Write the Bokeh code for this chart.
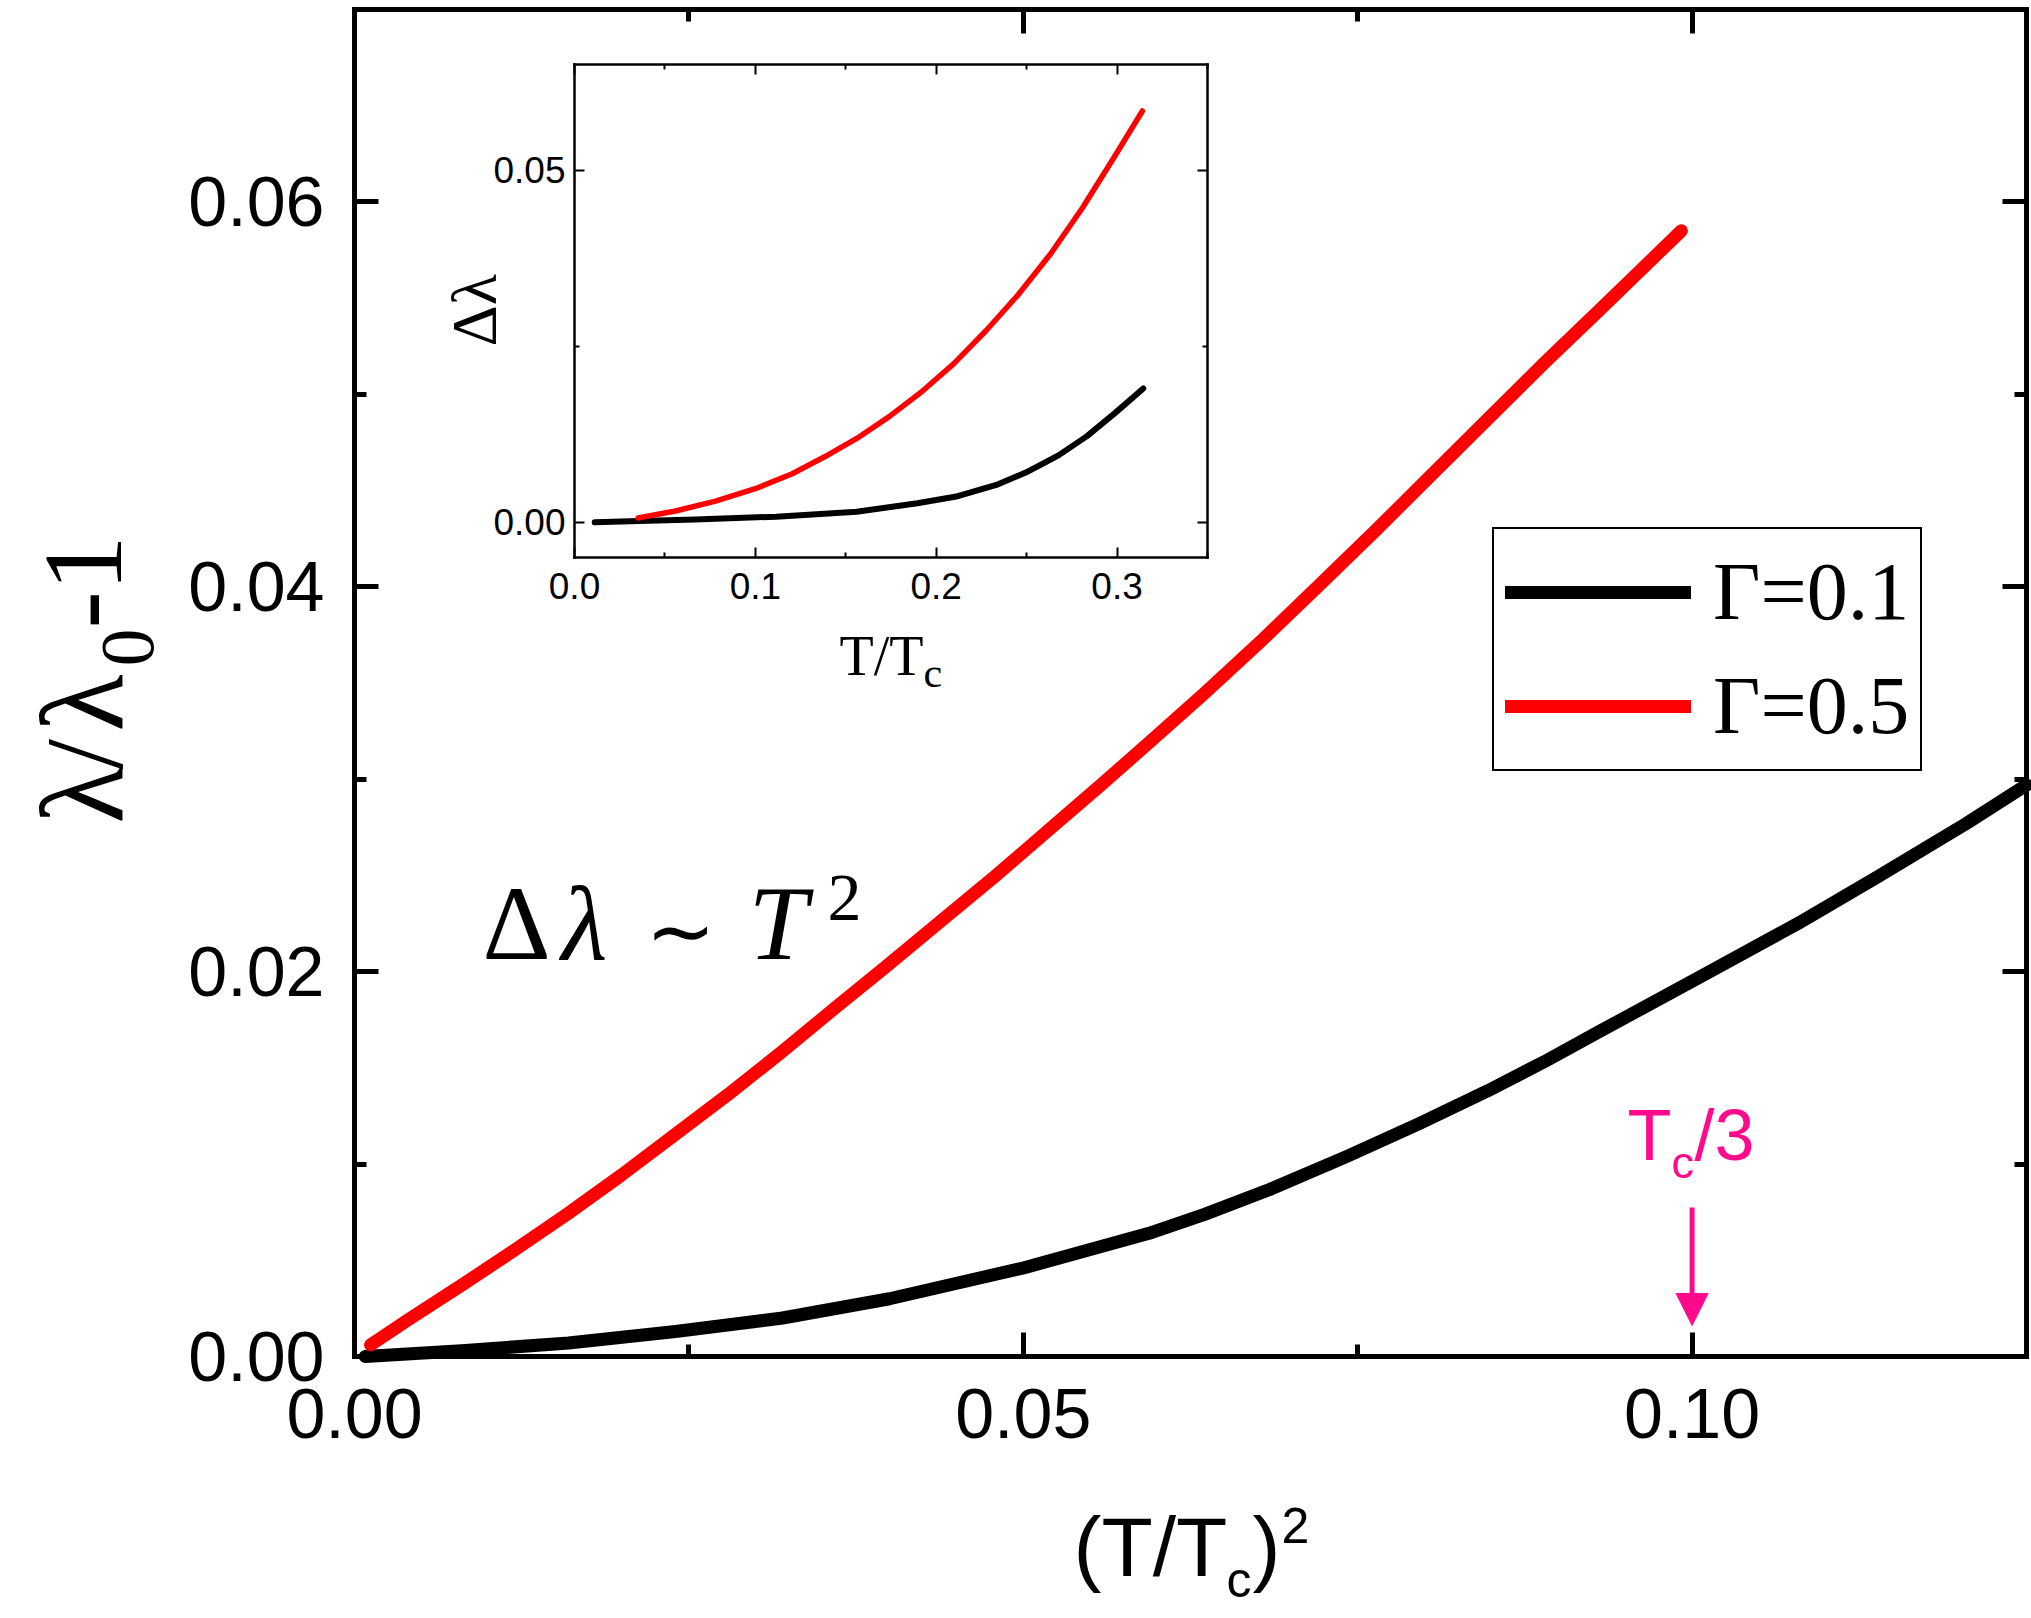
from math import pi
from bokeh.plotting import figure
from bokeh.models import (Range1d, LinearAxis, FixedTicker, Label, Legend, LegendItem,
                          Arrow, NormalHead, CustomJSTickFormatter)
from bokeh.embed import file_html
from bokeh.resources import INLINE

# ---------------- data ----------------
# main panel: x = (T/Tc)^2, y = lambda/lambda0 - 1
main_x_g01 = [0.0008, 0.008, 0.016, 0.024, 0.032, 0.040, 0.050, 0.0594, 0.0636, 0.0685,
              0.0742, 0.0796, 0.0847, 0.0889, 0.0931, 0.100, 0.1079, 0.1138, 0.1205, 0.125]
main_y_g01 = [0.0000, 0.0003, 0.0007, 0.0013, 0.0020, 0.0030, 0.0046, 0.0064, 0.0074, 0.0087,
              0.0104, 0.0121, 0.0138, 0.0153, 0.0169, 0.0195, 0.0225, 0.0249, 0.0277, 0.0297]
main_x_g05 = [0.0012, 0.004, 0.008, 0.0119, 0.0159, 0.0199, 0.0239, 0.0279, 0.0319, 0.0359,
              0.0398, 0.0438, 0.0478, 0.0518, 0.0558, 0.0594, 0.0636, 0.0678, 0.0720, 0.0763,
              0.0805, 0.0847, 0.0889, 0.0931, 0.0992]
main_y_g05 = [0.0006, 0.0019, 0.0037, 0.0055, 0.0074, 0.0094, 0.0115, 0.0136, 0.0158, 0.0181,
              0.0203, 0.0226, 0.0249, 0.0273, 0.0297, 0.0319, 0.0345, 0.0372, 0.0400, 0.0429,
              0.0458, 0.0487, 0.0516, 0.0544, 0.0585]

# inset: x = T/Tc, y = delta lambda
inset_t_g01 = [0.0112, 0.0357, 0.0669, 0.1115, 0.156, 0.1896, 0.2119, 0.2342, 0.2498, 0.2676,
               0.2832, 0.2988, 0.3145]
inset_dl_g01 = [0.0000, 0.0002, 0.0004, 0.0008, 0.0015, 0.0027, 0.0037, 0.0054, 0.0071, 0.0095,
                0.0122, 0.0155, 0.0190]
inset_t_g05 = [0.0352, 0.0558, 0.078, 0.1004, 0.1204, 0.1383, 0.1561, 0.174, 0.1918, 0.2096,
               0.2275, 0.2453, 0.2632, 0.281, 0.2988, 0.314]
inset_dl_g05 = [0.0006, 0.0016, 0.0030, 0.0048, 0.0069, 0.0093, 0.0119, 0.0150, 0.0185, 0.0225,
                0.0272, 0.0323, 0.0381, 0.0447, 0.0520, 0.0584]

legend_labels = ["Γ=0.1", "Γ=0.5"]
marker_x = [0.10]             # Tc/3 -> (1/3)^2 ~ 0.1

main_xticks = [0.0, 0.05, 0.10]
main_xticklabels = ["0.00", "0.05", "0.10"]
main_xminor = [0.025, 0.075, 0.125]
main_yticks = [0.0, 0.02, 0.04, 0.06]
main_yticklabels = ["0.00", "0.02", "0.04", "0.06"]
main_yminor = [0.01, 0.03, 0.05, 0.07]

inset_xticks = [0.0, 0.1, 0.2, 0.3]
inset_xticklabels = ["0.0", "0.1", "0.2", "0.3"]
inset_xminor = [0.05, 0.15, 0.25, 0.35]
inset_yticks = [0.0, 0.05]
inset_yticklabels = ["0.00", "0.05"]
inset_yminor = [0.025]

# ---------------- geometry (page pixels) ----------------
SANS = "Liberation Sans"
SERIF = "Liberation Serif"
PINK = "#FF0A8C"

W, H = 2031, 1618            # canvas size; canvas starts at page (0, 0)
CX0, CY0 = 0, 0
M_L, M_R, M_T, M_B = 354, 2026, 9, 1356       # main plot box
I_L, I_R, I_T, I_B = 574, 1207, 64, 557       # inset plot box

XMIN, XMAX, YMIN, YMAX = 0.0, 0.125, 0.0, 0.07
IXMIN, IXMAX, IYMIN, IYMAX = 0.0, 0.35, -0.005, 0.065

BASE_K = 0.36   # measured offset between requested and drawn baseline, in em


def full_range(lo, hi, p_lo, p_hi, c_lo, c_hi):
    """data range spanning the whole canvas, given that [lo,hi] sits at pixels [p_lo,p_hi]"""
    s = (hi - lo) / (p_hi - p_lo)
    return Range1d(lo - (p_lo - c_lo) * s, hi + (c_hi - p_hi) * s)


x_full = full_range(XMIN, XMAX, M_L, M_R, CX0, CX0 + W)
y_full = full_range(YMIN, YMAX, -M_B, -M_T, -(CY0 + H), -CY0)
ix_full = full_range(IXMIN, IXMAX, I_L, I_R, CX0, CX0 + W)
iy_full = full_range(IYMIN, IYMAX, -I_B, -I_T, -(CY0 + H), -CY0)


def mx(px):
    return XMIN + (px - M_L) / (M_R - M_L) * (XMAX - XMIN)


def my(py):
    return YMIN + (M_B - py) / (M_B - M_T) * (YMAX - YMIN)


# ---------------- helpers ----------------
def fmt(tick_values, tick_labels):
    return CustomJSTickFormatter(
        args=dict(tvals=list(tick_values), tlabs=list(tick_labels)),
        code="""
        let best = 0;
        for (let i = 0; i < tvals.length; i++) {
          if (Math.abs(tvals[i] - tick) < Math.abs(tvals[best] - tick)) best = i;
        }
        return tlabs[best];
        """)


def make_axis(fig, side, loc, bounds, tick_values, minor, tick_labels, font_px, standoff,
              tin, tmin, tlw, alw, rng=None):
    kw = {}
    if rng is not None:
        kw = dict(x_range_name=rng[0], y_range_name=rng[1])
    ax = LinearAxis(fixed_location=loc, bounds=bounds, **kw)
    ax.ticker = FixedTicker(ticks=tick_values, minor_ticks=minor)
    ax.major_tick_in = tin
    ax.major_tick_out = 0
    ax.minor_tick_in = tmin
    ax.minor_tick_out = 0
    ax.major_tick_line_width = tlw
    ax.minor_tick_line_width = tlw
    ax.major_tick_line_color = "black"
    ax.minor_tick_line_color = "black"
    ax.axis_line_color = "black"
    ax.axis_line_width = alw
    ax.axis_line_cap = "square"
    ax.axis_label = None
    if tick_labels is not None:
        ax.formatter = fmt(tick_values, tick_labels)
        ax.major_label_text_font = SANS
        ax.major_label_text_font_size = f"{font_px}px"
        ax.major_label_text_color = "black"
        ax.major_label_standoff = standoff
    else:
        ax.major_label_text_font_size = "0px"
        ax.major_label_text_alpha = 0
        ax.major_label_standoff = 0
    fig.add_layout(ax, side)
    return ax


def lab(fig, px, py, text, font, size, color="black", style="normal", rotated=False):
    """place text so that its baseline starts at page pixel (px, py)"""
    if rotated:
        x, y, angle = mx(px - BASE_K * size), my(py), pi / 2
    else:
        x, y, angle = mx(px), my(py - BASE_K * size), 0.0
    fig.add_layout(Label(x=x, y=y, text=text, text_font=font, text_font_size=f"{size}px",
                         text_color=color, text_font_style=style, text_align="left",
                         text_baseline="alphabetic", angle=angle))


# ---------------- figure ----------------
p = figure(width=W, height=H, x_range=x_full, y_range=y_full,
           x_axis_type=None, y_axis_type=None,
           output_backend="svg", toolbar_location=None,
           min_border_left=0, min_border_right=0, min_border_top=0, min_border_bottom=0)
p.extra_x_ranges = {"ix": ix_full}
p.extra_y_ranges = {"iy": iy_full}
p.grid.visible = False
p.outline_line_color = None
p.background_fill_color = "white"
p.border_fill_color = "white"

# main axes (box with inward ticks on all sides)
make_axis(p, "below", YMIN, (XMIN, XMAX), main_xticks, main_xminor, main_xticklabels, 70, 32, 24, 12, 5, 5)
make_axis(p, "left", XMIN, (YMIN, YMAX), main_yticks, main_yminor, main_yticklabels, 70, 30, 24, 12, 5, 5)
make_axis(p, "above", YMAX, (XMIN, XMAX), main_xticks, main_xminor, None, 0, 0, 24, 12, 5, 5)
make_axis(p, "right", XMAX, (YMIN, YMAX), main_yticks, main_yminor, None, 0, 0, 24, 12, 5, 5)

# inset axes
IR = ("ix", "iy")
make_axis(p, "below", IYMIN, (IXMIN, IXMAX), inset_xticks, inset_xminor, inset_xticklabels, 37, 15, 10, 5, 2, 2.5, IR)
make_axis(p, "left", IXMIN, (IYMIN, IYMAX), inset_yticks, inset_yminor, inset_yticklabels, 37, 9, 10, 5, 2, 2.5, IR)
make_axis(p, "above", IYMAX, (IXMIN, IXMAX), inset_xticks, inset_xminor, None, 0, 0, 10, 5, 2, 2.5, IR)
make_axis(p, "right", IXMAX, (IYMIN, IYMAX), inset_yticks, inset_yminor, None, 0, 0, 10, 5, 2, 2.5, IR)

# main curves
r1 = p.line(main_x_g01, main_y_g01, line_color="black", line_width=13,
            line_cap="round", line_join="round")
r2 = p.line(main_x_g05, main_y_g05, line_color="#FF0000", line_width=13,
            line_cap="round", line_join="round")

# inset curves
p.line(inset_t_g01, inset_dl_g01, x_range_name="ix", y_range_name="iy",
       line_color="black", line_width=6, line_cap="round", line_join="round")
p.line(inset_t_g05, inset_dl_g05, x_range_name="ix", y_range_name="iy",
       line_color="#FF0000", line_width=5.5, line_cap="round", line_join="round")

legend = Legend(items=[LegendItem(label=legend_labels[0], renderers=[r1]),
                       LegendItem(label=legend_labels[1], renderers=[r2])],
                location=(1492 - CX0, CY0 + H - 771), orientation="vertical",
                label_text_font=SERIF, label_text_font_size="82px", label_text_color="black",
                glyph_width=186, glyph_height=104, label_standoff=22, spacing=10,
                padding=11, margin=0, border_line_color="black", border_line_width=2,
                border_line_alpha=1.0,
                background_fill_color="white", background_fill_alpha=1.0)
p.add_layout(legend)

# x-axis title (T/Tc)^2
lab(p, 1073, 1577, "(T/T", SANS, 84)
lab(p, 1226, 1597, "c", SANS, 50)
lab(p, 1252, 1577, ")", SANS, 84)
lab(p, 1281, 1543, "2", SANS, 50)

# y-axis title lambda/lambda0 - 1 (rotated)
lab(p, 124, 823, "λ", SERIF, 118, rotated=True)
lab(p, 124, 769, "/", SERIF, 110, rotated=True)
lab(p, 124, 731, "λ", SERIF, 118, rotated=True)
lab(p, 155, 666, "0", SERIF, 76, rotated=True)
lab(p, 124, 628, "-1", SERIF, 112, rotated=True)

# Delta lambda ~ T^2
lab(p, 482, 961, "Δ", SERIF, 106)
lab(p, 561, 961, "λ", SERIF, 106, style="italic")
lab(p, 645, 961, "∼", "DejaVu Sans", 84)
lab(p, 748, 961, "T", SERIF, 106, style="italic")
lab(p, 827, 922, "2", SERIF, 68)

# Tc/3 marker
lab(p, 1627, 1160, "T", SANS, 72, color=PINK)
lab(p, 1671, 1178, "c", SANS, 45, color=PINK)
lab(p, 1694, 1160, "/3", SANS, 72, color=PINK)
p.add_layout(Arrow(end=NormalHead(size=32, fill_color=PINK, line_color=PINK, line_width=1),
                   x_start=marker_x[0], y_start=my(1207), x_end=marker_x[0], y_end=my(1325),
                   line_color=PINK, line_width=5))

# inset titles
lab(p, 839, 676, "T/T", SERIF, 56)
lab(p, 923, 688, "c", SERIF, 42)
lab(p, 497, 346, "Δλ", SERIF, 64, rotated=True)

open("out.html", "w").write(file_html(p, INLINE))
